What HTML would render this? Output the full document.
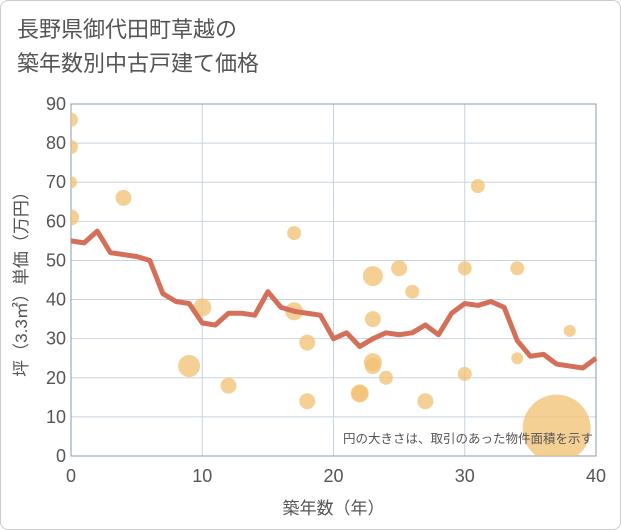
<!DOCTYPE html>
<html><head><meta charset="utf-8"><style>
body{margin:0;background:#fff;}
.wrap{width:619px;height:528px;border:1px solid #ccc;border-radius:8px;position:relative;overflow:hidden;font-family:"Liberation Sans","Noto Sans CJK JP",sans-serif;}
.title{position:absolute;left:16px;top:12px;font-size:22px;line-height:34px;color:#555;}
</style></head><body>
<div class="wrap">
<div class="title">長野県御代田町草越の<br>築年数別中古戸建て価格</div>
<svg id="chart" width="621" height="530" style="position:absolute;left:-1px;top:-1px"><defs><clipPath id="pc"><rect x="71" y="104" width="525" height="352"/></clipPath></defs></svg>
</div>
<script>
const xTicks=[0,10,20,30,40];
const yTicks=[0,10,20,30,40,50,60,70,80,90];
const lineYears=[0,1,2,3,4,5,6,7,8,9,10,11,12,13,14,15,16,17,18,19,20,21,22,23,24,25,26,27,28,29,30,31,32,33,34,35,36,37,38,39,40];
const lineValues=[55,54.5,57.5,52,51.5,51,50,41.5,39.5,39,34,33.5,36.5,36.5,36,42,38,37,36.5,36,30,31.5,28,30,31.5,31,31.5,33.5,31,36.5,39,38.5,39.5,38,29.5,25.5,26,23.5,23,22.5,25];
const ptX=[0,0,0,0,4,9,10,12,17,17,18,18,22,22,23,23,23,23,24,25,26,27,30,30,31,34,34,38,37];
const ptY=[86,79,70,61,66,23,38,18,57,37,29,14,16,16,46,35,24,23,20,48,42,14,48,21,69,48,25,32,7];
const ptR=[7,7,6,8,8,11,9,8,7,9,8,8,9,8,10,8,9,8,7,8,7,8,7,7,7,7,6,6,34];
const ns="http://www.w3.org/2000/svg";
const svg=document.getElementById('chart');
const L=71,R=596,T=104,B=456;
const sx=v=>L+(v-0)/40*(R-L);
const sy=v=>B-v/90*(B-T);
function mk(t,a){const e=document.createElementNS(ns,t);for(const k in a)e.setAttribute(k,a[k]);svg.appendChild(e);return e;}
yTicks.forEach(v=>{const g=mk('line',{x1:L,x2:R,y1:sy(v),y2:sy(v),stroke:'#c8d4e0','stroke-width':1});

const t=mk('text',{x:L-5,y:sy(v)+6,'text-anchor':'end','font-size':18,fill:'#555'});t.textContent=v;
});
xTicks.forEach(v=>{const g=mk('line',{x1:sx(v),x2:sx(v),y1:T,y2:B,stroke:'#c8d4e0','stroke-width':1});

const t=mk('text',{x:sx(v),y:B+26,'text-anchor':'middle','font-size':18,fill:'#555'});t.textContent=v;
});
const fr=mk('rect',{x:L,y:T,width:R-L,height:B-T,fill:'none',stroke:'#8a99a8','stroke-width':1});

ptX.forEach((x,i)=>{const c=mk('circle',{cx:sx(x),cy:sy(ptY[i]),r:ptR[i],fill:'#f2c070','fill-opacity':0.75,'clip-path':'url(#pc)'});
});
const p=mk('polyline',{points:lineYears.map((x,i)=>sx(x)+','+sy(lineValues[i])).join(' '),fill:'none',stroke:'#d4705a','stroke-width':5,'stroke-linejoin':'round'});

const n=mk('text',{x:593,y:443,'text-anchor':'end','font-size':12.5,fill:'#555'});n.textContent='円の大きさは、取引のあった物件面積を示す';

const xt=mk('text',{x:(L+R)/2,y:514,'text-anchor':'middle','font-size':17,fill:'#555'});xt.textContent='築年数（年）';

const yt=mk('text',{x:0,y:0,'text-anchor':'middle','font-size':17,fill:'#555',transform:'translate(27,'+((T+B)/2)+') rotate(-90)'});yt.textContent='坪（3.3㎡）単価（万円）';

</script>
</body></html>
